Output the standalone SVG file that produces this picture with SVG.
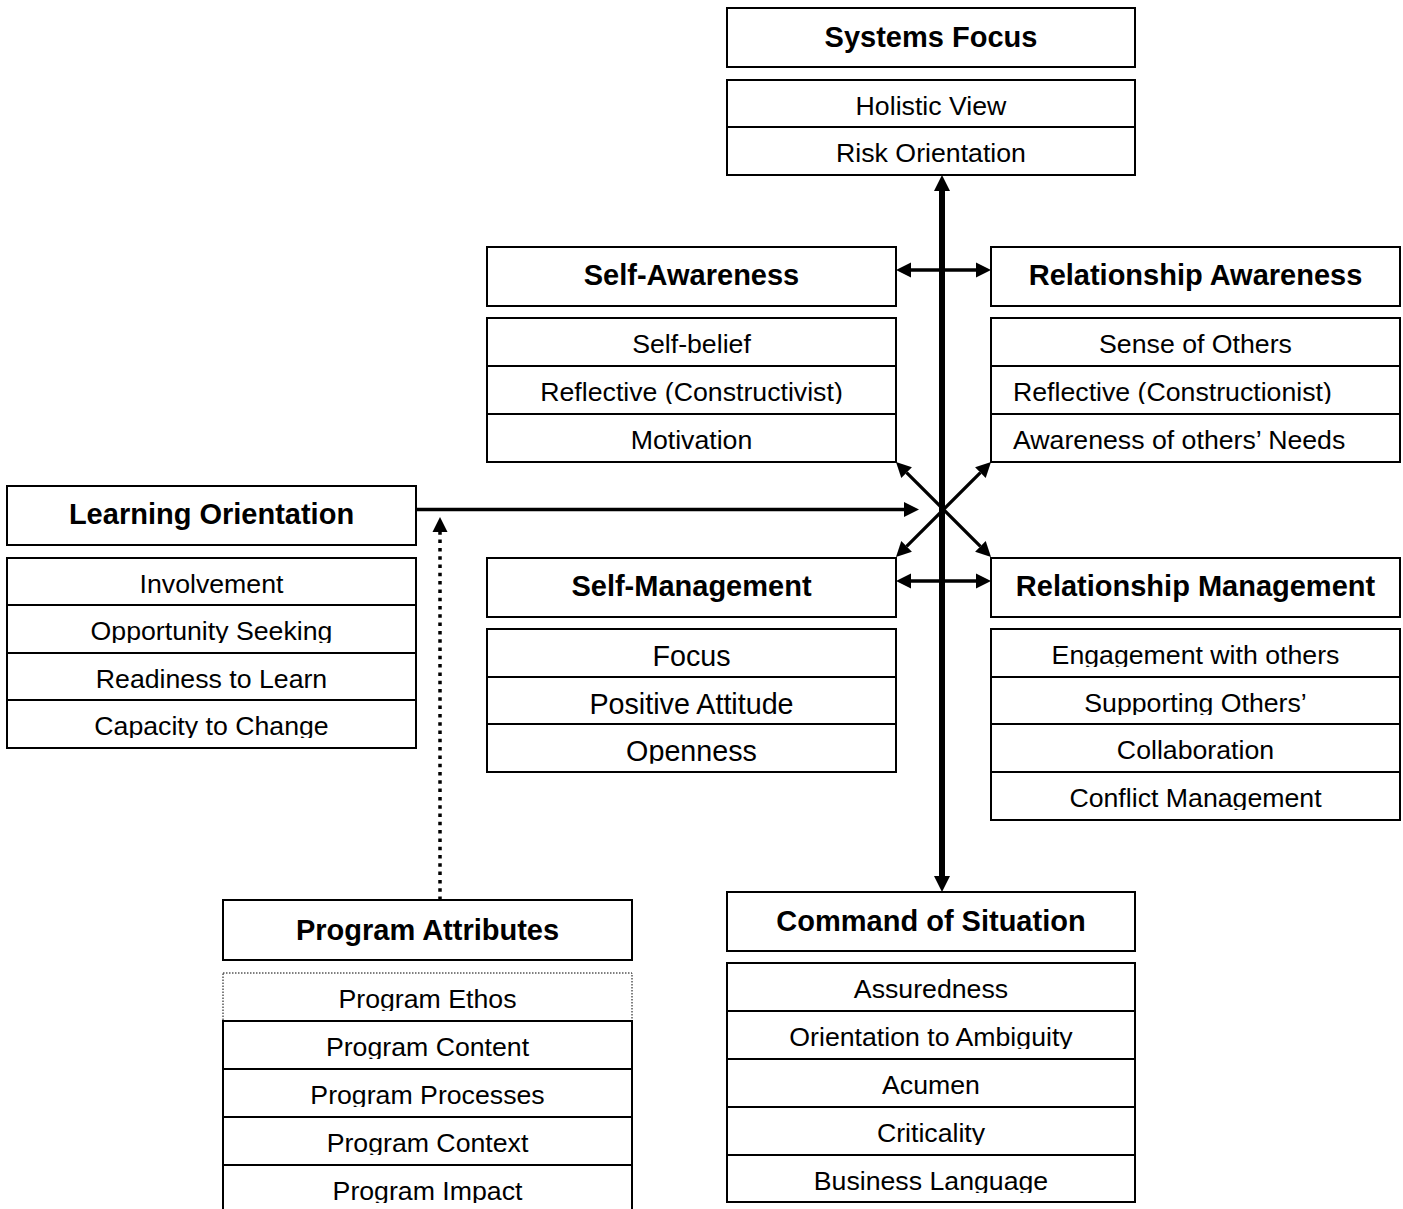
<svg xmlns="http://www.w3.org/2000/svg" width="1403" height="1209" viewBox="0 0 1403 1209">
<style>
  .box { fill: #fff; stroke: #000; stroke-width: 2; }
  .div { stroke: #000; stroke-width: 2; }
  .hd { font-family: "Liberation Sans", Arial, sans-serif; font-weight: bold; font-size: 29px; text-anchor: middle; fill: #000; }
  .it { font-family: "Liberation Sans", Arial, sans-serif; font-size: 26.7px; text-anchor: middle; fill: #000; clip-path: url(#cut); }
  .big { font-size: 28.7px; }
  .st { text-anchor: start; }
  .conn { fill: none; stroke: #000; }
</style>
<defs>
  <clipPath id="cut" clipPathUnits="objectBoundingBox"><rect x="-0.1" y="-0.2" width="1.2" height="1.1"/></clipPath>
  <marker id="ah" markerUnits="userSpaceOnUse" markerWidth="16" markerHeight="16" refX="0" refY="7.5" orient="auto-start-reverse" overflow="visible">
    <path d="M0,0 L15,7.5 L0,15 z" fill="#000"/>
  </marker>
  <marker id="ahb" markerUnits="userSpaceOnUse" markerWidth="17" markerHeight="17" refX="0" refY="8" orient="auto-start-reverse" overflow="visible">
    <path d="M0,0 L16,8 L0,16 z" fill="#000"/>
  </marker>
</defs>
<rect width="1403" height="1209" fill="#fff"/>

<g id="systems-focus">
  <rect class="box" x="727" y="8" width="408" height="59"/>
  <text class="hd" x="931" y="47">Systems Focus</text>
  <rect class="box" x="727" y="80" width="408" height="95"/>
  <line class="div" x1="727" y1="127" x2="1135" y2="127"/>
  <text class="it" x="931" y="115">Holistic View</text>
  <text class="it" x="931" y="162">Risk Orientation</text>
</g>

<g id="self-awareness">
  <rect class="box" x="487" y="247" width="409" height="59"/>
  <text class="hd" x="691.5" y="285">Self-Awareness</text>
  <rect class="box" x="487" y="318" width="409" height="144"/>
  <line class="div" x1="487" y1="366" x2="896" y2="366"/>
  <line class="div" x1="487" y1="414" x2="896" y2="414"/>
  <text class="it" x="691.5" y="353">Self-belief</text>
  <text class="it" x="691.5" y="401">Reflective (Constructivist)</text>
  <text class="it" x="691.5" y="449">Motivation</text>
</g>

<g id="relationship-awareness">
  <rect class="box" x="991" y="247" width="409" height="59"/>
  <text class="hd" x="1195.5" y="285">Relationship Awareness</text>
  <rect class="box" x="991" y="318" width="409" height="144"/>
  <line class="div" x1="991" y1="366" x2="1400" y2="366"/>
  <line class="div" x1="991" y1="414" x2="1400" y2="414"/>
  <text class="it" x="1195.5" y="353">Sense of Others</text>
  <text class="it st" x="1013" y="401">Reflective (Constructionist)</text>
  <text class="it st" x="1013" y="449">Awareness of others’ Needs</text>
</g>

<g id="learning-orientation">
  <rect class="box" x="7" y="486" width="409" height="59"/>
  <text class="hd" x="211.5" y="524">Learning Orientation</text>
  <rect class="box" x="7" y="558" width="409" height="190"/>
  <line class="div" x1="7" y1="605" x2="416" y2="605"/>
  <line class="div" x1="7" y1="653" x2="416" y2="653"/>
  <line class="div" x1="7" y1="700" x2="416" y2="700"/>
  <text class="it" x="211.5" y="593">Involvement</text>
  <text class="it" x="211.5" y="640">Opportunity Seeking</text>
  <text class="it" x="211.5" y="688">Readiness to Learn</text>
  <text class="it" x="211.5" y="735">Capacity to Change</text>
</g>

<g id="self-management">
  <rect class="box" x="487" y="558" width="409" height="59"/>
  <text class="hd" x="691.5" y="596">Self-Management</text>
  <rect class="box" x="487" y="629" width="409" height="143"/>
  <line class="div" x1="487" y1="677" x2="896" y2="677"/>
  <line class="div" x1="487" y1="724" x2="896" y2="724"/>
  <text class="it big" x="691.5" y="666">Focus</text>
  <text class="it big" x="691.5" y="714">Positive Attitude</text>
  <text class="it big" x="691.5" y="761">Openness</text>
</g>

<g id="relationship-management">
  <rect class="box" x="991" y="558" width="409" height="59"/>
  <text class="hd" x="1195.5" y="596">Relationship Management</text>
  <rect class="box" x="991" y="629" width="409" height="191"/>
  <line class="div" x1="991" y1="677" x2="1400" y2="677"/>
  <line class="div" x1="991" y1="724" x2="1400" y2="724"/>
  <line class="div" x1="991" y1="772" x2="1400" y2="772"/>
  <text class="it" x="1195.5" y="664">Engagement with others</text>
  <text class="it" x="1195.5" y="712">Supporting Others’</text>
  <text class="it" x="1195.5" y="759">Collaboration</text>
  <text class="it" x="1195.5" y="807">Conflict Management</text>
</g>

<g id="command-of-situation">
  <rect class="box" x="727" y="892" width="408" height="59"/>
  <text class="hd" x="931" y="931">Command of Situation</text>
  <rect class="box" x="727" y="963" width="408" height="239"/>
  <line class="div" x1="727" y1="1011" x2="1135" y2="1011"/>
  <line class="div" x1="727" y1="1059" x2="1135" y2="1059"/>
  <line class="div" x1="727" y1="1107" x2="1135" y2="1107"/>
  <line class="div" x1="727" y1="1155" x2="1135" y2="1155"/>
  <text class="it" x="931" y="998">Assuredness</text>
  <text class="it" x="931" y="1046">Orientation to Ambiguity</text>
  <text class="it" x="931" y="1094">Acumen</text>
  <text class="it" x="931" y="1142">Criticality</text>
  <text class="it" x="931" y="1190">Business Language</text>
</g>

<g id="program-attributes">
  <rect class="box" x="223" y="900" width="409" height="60"/>
  <text class="hd" x="427.5" y="940">Program Attributes</text>
  <rect x="223" y="973" width="409" height="48" fill="#fff" stroke="#000" stroke-width="1" stroke-dasharray="1.5 1.5"/>
  <rect class="box" x="223" y="1021" width="409" height="220"/>
  <line class="div" x1="223" y1="1069" x2="632" y2="1069"/>
  <line class="div" x1="223" y1="1117" x2="632" y2="1117"/>
  <line class="div" x1="223" y1="1165" x2="632" y2="1165"/>
  <text class="it" x="427.5" y="1008">Program Ethos</text>
  <text class="it" x="427.5" y="1056">Program Content</text>
  <text class="it" x="427.5" y="1104">Program Processes</text>
  <text class="it" x="427.5" y="1152">Program Context</text>
  <text class="it" x="427.5" y="1200">Program Impact</text>
</g>

<g id="connectors">
  <line class="conn" x1="911" y1="270" x2="976" y2="270" stroke-width="3.3" marker-start="url(#ah)" marker-end="url(#ah)"/>
  <line class="conn" x1="911" y1="581" x2="976" y2="581" stroke-width="3.3" marker-start="url(#ah)" marker-end="url(#ah)"/>
  <line class="conn" x1="906.6" y1="472.6" x2="980.4" y2="546.4" stroke-width="3.3" marker-start="url(#ah)" marker-end="url(#ah)"/>
  <line class="conn" x1="980.4" y1="472.6" x2="906.6" y2="546.4" stroke-width="3.3" marker-start="url(#ah)" marker-end="url(#ah)"/>
  <line class="conn" x1="416" y1="509.5" x2="904" y2="509.5" stroke-width="3.5" marker-end="url(#ah)"/>
  <line class="conn" x1="440" y1="900" x2="440" y2="532" stroke-width="3.5" stroke-dasharray="3.5 4.8" marker-end="url(#ah)"/>
  <line class="conn" x1="942" y1="191" x2="942" y2="876" stroke-width="6" marker-start="url(#ahb)" marker-end="url(#ahb)"/>
</g>
</svg>
